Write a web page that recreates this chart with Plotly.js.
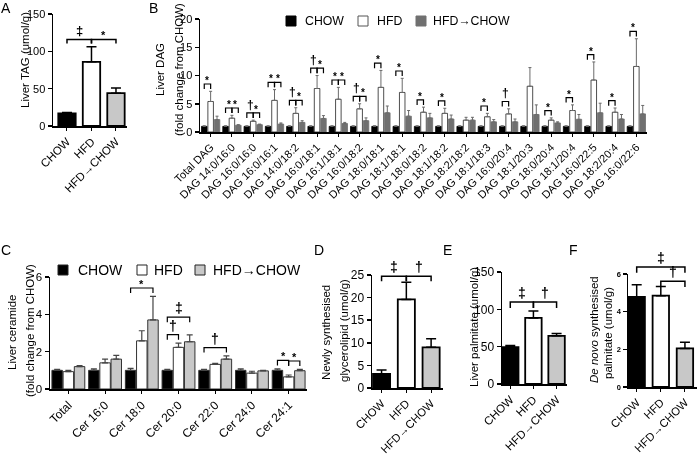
<!DOCTYPE html>
<html><head><meta charset="utf-8">
<script src="https://cdn.plot.ly/plotly-3.0.1.min.js"></script>
<style>html,body{margin:0;padding:0;background:#fff}#chart{width:700px;height:457px;will-change:transform}</style>
</head><body><div id="chart"></div>
<script>
// ================= DATA =================
const groupNames = ['CHOW', 'HFD', 'HFD→CHOW'];

// A: Liver TAG (umol/g)
const tagMean = [17, 86, 44];
const tagSem = [1, 20, 7];
const tagSigFrom = [0, 1];
const tagSigTo = [1, 2];
const tagSigSym = ['‡', '*'];
const tagSigTier = [0, 0];

// B: Liver DAG (fold change from CHOW)
const dagSpecies = ['Total DAG', 'DAG 14:0/16:0', 'DAG 16:0/16:0', 'DAG 16:0/16:1', 'DAG 14:0/18:2',
  'DAG 16:0/18:1', 'DAG 16:1/18:1', 'DAG 16:0/18:2', 'DAG 18:0/18:1', 'DAG 18:1/18:1', 'DAG 18:0/18:2',
  'DAG 18:1/18:2', 'DAG 18:2/18:2', 'DAG 18:1/18:3', 'DAG 16:0/20:4', 'DAG 18:1/20:3', 'DAG 18:0/20:4',
  'DAG 18:1/20:4', 'DAG 16:0/22:5', 'DAG 18:2/20:4', 'DAG 16:0/22:6'];
const dagChow = [1, 1, 1, 1, 1, 1, 1, 1, 1, 1, 1, 1, 1, 1, 1, 1, 1, 1, 1, 1, 1];
const dagChowSem = [0.1, 0.1, 0.1, 0.1, 0.1, 0.1, 0.1, 0.1, 0.1, 0.1, 0.1, 0.1, 0.1, 0.1, 0.1, 0.1, 0.1, 0.1, 0.1, 0.1, 0.1];
const dagHfd = [5.4, 2.45, 1.9, 5.6, 3.3, 7.7, 5.8, 4.1, 7.9, 7.0, 3.5, 3.3, 2.1, 2.7, 3.2, 8.1, 2.1, 3.8, 9.2, 3.5, 11.6];
const dagHfdSem = [1.8, 0.5, 0.2, 1.9, 1.0, 2.3, 2.1, 0.9, 3.0, 2.5, 0.9, 0.9, 0.5, 0.6, 0.9, 3.3, 0.4, 1.0, 3.2, 0.75, 4.9];
const dagSwitch = [2.2, 1.2, 1.3, 1.4, 1.7, 2.4, 1.5, 2.0, 3.4, 2.8, 2.5, 2.3, 2.1, 1.8, 1.8, 3.1, 1.6, 2.25, 3.4, 2.3, 3.2];
const dagSwitchSem = [0.6, 0.1, 0.1, 0.2, 0.3, 0.5, 0.2, 0.5, 1.2, 1.0, 0.8, 0.7, 0.5, 0.4, 0.5, 1.7, 0.2, 0.85, 1.7, 0.8, 1.5];
const dagSigChowHfd = ['*', '*', '†', '*', '†', '†', '*', '†', '*', '*', '*', '*', '', '*', '†', '', '*', '*', '*', '*', '*'];
const dagSigHfdSwitch = ['', '*', '*', '*', '*', '*', '*', '*', '', '', '', '', '', '', '', '', '', '', '', '', ''];

// C: Liver ceramide (fold change from CHOW)
const cerSpecies = ['Total', 'Cer 16:0', 'Cer 18:0', 'Cer 20:0', 'Cer 22:0', 'Cer 24:0', 'Cer 24:1'];
const cerChow = [1, 1, 1, 1, 1, 1, 1];
const cerChowSem = [0.05, 0.08, 0.1, 0.05, 0.05, 0.08, 0.08];
const cerHfd = [0.93, 1.4, 2.58, 2.23, 1.32, 0.85, 0.65];
const cerHfdSem = [0.07, 0.2, 0.54, 0.23, 0.06, 0.1, 0.1];
const cerSwitch = [1.2, 1.6, 3.7, 2.53, 1.6, 0.97, 0.98];
const cerSwitchSem = [0.05, 0.2, 1.26, 0.37, 0.17, 0.03, 0.07];
const cerSigCat = [2, 3, 3, 4, 6, 6];
const cerSigFrom = [0, 0, 0, 0, 0, 1];
const cerSigTo = [2, 1, 2, 2, 1, 2];
const cerSigSym = ['*', '†', '‡', '†', '*', '*'];
const cerSigTier = [0, 0, 1, 0, 0, 0];

// D: Newly synthesised glycerolipid (umol/g)
const glyMean = [3.1, 19.6, 9.0];
const glySem = [0.9, 3.8, 1.9];
const glySigFrom = [0, 1];
const glySigTo = [1, 2];
const glySigSym = ['‡', '†'];
const glySigTier = [0, 0];

// E: Liver palmitate (umol/g)
const palMean = [49.4, 88.5, 64.5];
const palSem = [2.2, 9.4, 3.1];
const palSigFrom = [0, 1];
const palSigTo = [1, 2];
const palSigSym = ['‡', '†'];
const palSigTier = [0, 0];

// F: De novo synthesised palmitate (umol/g)
const dnlMean = [4.78, 4.85, 2.05];
const dnlSem = [0.65, 0.49, 0.32];
const dnlSigFrom = [0, 1];
const dnlSigTo = [2, 2];
const dnlSigSym = ['‡', '†'];
const dnlSigTier = [1, 0];

// ================= STYLE / LAYOUT =================
const FONT = 'Liberation Sans, Arial, Helvetica, sans-serif';
const W = 700, H = 457;
const px = v => v / W;
const py = v => 1 - v / H;
const idx = arr => arr.map((_, i) => i);
const zeros = arr => arr.map(() => 0);
const tops = (m, s) => m.map((v, i) => v + s[i]);

const threeColors = ['#000000', '#ffffff', '#c8c8c8'];
const bColors = ['#000000', '#ffffff', '#707070'];
const traces = [], shapes = [], annotations = [];

function axName(n) { return n === 1 ? '' : String(n); }

function simplePanel(n, mean, sem, st) {
  traces.push({
    type: 'bar', x: idx(mean), y: mean, width: st.bw, xaxis: 'x' + axName(n), yaxis: 'y' + axName(n),
    marker: { color: threeColors, line: { color: '#000', width: st.lw } },
    error_y: { type: 'data', symmetric: false, array: sem, arrayminus: zeros(sem), color: '#000', thickness: st.elw, width: st.ew },
    showlegend: false, hoverinfo: 'skip'
  });
}

// bracket: x in data units of axis n, y converted to the axis' domain fraction (range starts at 0)
function bracket(n, x0, x1, top, sym, tier, st) {
  const y = (top + st.pad + tier * st.step) / st.ymax;
  const yb = y - st.drop / st.ymax;
  const xr = 'x' + axName(n), yr = 'y' + axName(n) + ' domain';
  shapes.push({ type: 'path', xref: xr, yref: yr, path: `M${x0},${yb} L${x0},${y} L${x1},${y} L${x1},${yb}`,
    line: { color: '#000', width: st.blw } });
  annotations.push({ xref: xr, yref: yr, x: (x0 + x1) / 2, y: y, text: sym, showarrow: false,
    xanchor: 'center', yanchor: 'bottom', yshift: sym === '*' ? -4 : -1,
    font: { family: FONT, size: sym === '*' ? st.star : st.dag, color: '#000', weight: 'bold' } });
}

function simpleBrackets(n, mean, sem, from, to, sym, tier, st) {
  const t = tops(mean, sem);
  for (let k = 0; k < sym.length; k++) {
    const span = t.slice(from[k], to[k] + 1);
    bracket(n, from[k], to[k], Math.max(...span), sym[k], tier[k], st);
  }
}

// ---- A ----
const stA = { ymax: 150, bw: 0.71, lw: 1.8, elw: 1.5, ew: 5, pad: 10, step: 12, drop: 5.5, blw: 1.5, star: 11, dag: 13 };
simplePanel(1, tagMean, tagSem, stA);
simpleBrackets(1, tagMean, tagSem, tagSigFrom, tagSigTo, tagSigSym, tagSigTier, stA);

// ---- B ----
const bSp = 0.3, bW = 0.26;
const bSeries = [[dagChow, dagChowSem], [dagHfd, dagHfdSem], [dagSwitch, dagSwitchSem]];
bSeries.forEach((s, g) => {
  traces.push({
    type: 'bar', name: groupNames[g], x: idx(dagSpecies), y: s[0], width: bW, offset: (g - 1) * bSp - bW / 2,
    xaxis: 'x2', yaxis: 'y2',
    marker: { color: bColors[g], line: { color: g === 1 ? '#222' : bColors[g], width: 0.8 } },
    error_y: { type: 'data', symmetric: false, array: s[1], arrayminus: zeros(s[1]), color: '#6a6a6a', thickness: 1, width: 1.5 },
    showlegend: false, hoverinfo: 'skip'
  });
});
const stB = { ymax: 20, pad: 1.3, step: 1, drop: 0.9, blw: 1.2, star: 10, dag: 12 };
const dagHfdTop = tops(dagHfd, dagHfdSem), dagSwTop = tops(dagSwitch, dagSwitchSem), dagChTop = tops(dagChow, dagChowSem);
dagSpecies.forEach((c, i) => {
  if (dagSigChowHfd[i]) bracket(2, i - bSp, i, Math.max(dagChTop[i], dagHfdTop[i]), dagSigChowHfd[i], 0, stB);
  if (dagSigHfdSwitch[i]) bracket(2, i, i + bSp, Math.max(dagHfdTop[i], dagSwTop[i]), dagSigHfdSwitch[i], 0, stB);
});

// ---- C ----
const cSp = 0.305, cW = 0.285;
const cSeries = [[cerChow, cerChowSem], [cerHfd, cerHfdSem], [cerSwitch, cerSwitchSem]];
cSeries.forEach((s, g) => {
  traces.push({
    type: 'bar', name: groupNames[g], x: idx(cerSpecies), y: s[0], width: cW, offset: (g - 1) * cSp - cW / 2,
    xaxis: 'x3', yaxis: 'y3',
    marker: { color: threeColors[g], line: { color: '#333', width: 1 } },
    error_y: { type: 'data', symmetric: false, array: s[1], arrayminus: zeros(s[1]), color: '#444', thickness: 1.2, width: 3 },
    showlegend: false, hoverinfo: 'skip'
  });
});
const stC = { ymax: 6, pad: 0.45, step: 0.5, drop: 0.27, blw: 1.2, star: 11, dag: 14 };
const cTops = cSeries.map(s => tops(s[0], s[1]));
for (let k = 0; k < cerSigSym.length; k++) {
  const c = cerSigCat[k];
  let m = 0;
  for (let g = cerSigFrom[k]; g <= cerSigTo[k]; g++) m = Math.max(m, cTops[g][c]);
  bracket(3, c + (cerSigFrom[k] - 1) * cSp, c + (cerSigTo[k] - 1) * cSp, m, cerSigSym[k], cerSigTier[k], stC);
}

// ---- D ----
const stD = { ymax: 25, bw: 0.69, lw: 1.8, elw: 1.5, ew: 5, pad: 1.3, step: 1.5, drop: 1.1, blw: 1.5, star: 11, dag: 14 };
simplePanel(4, glyMean, glySem, stD);
simpleBrackets(4, glyMean, glySem, glySigFrom, glySigTo, glySigSym, glySigTier, stD);

// ---- E ----
const stE = { ymax: 150, bw: 0.71, lw: 1.8, elw: 1.5, ew: 5, pad: 12, step: 10, drop: 8, blw: 1.5, star: 11, dag: 14 };
simplePanel(5, palMean, palSem, stE);
simpleBrackets(5, palMean, palSem, palSigFrom, palSigTo, palSigSym, palSigTier, stE);

// ---- F ----
const stF = { ymax: 6, bw: 0.68, lw: 1.8, elw: 1.5, ew: 5, pad: 0.27, step: 0.67, drop: 0.3, blw: 1.5, star: 11, dag: 14 };
simplePanel(6, dnlMean, dnlSem, stF);
simpleBrackets(6, dnlMean, dnlSem, dnlSigFrom, dnlSigTo, dnlSigSym, dnlSigTier, stF);

// ---- legends (drawn as keys in paper space) ----
function legendKey(x, yc, size, fill, stroke, text, tx, fs) {
  shapes.push({ type: 'rect', xref: 'paper', yref: 'paper', x0: px(x), x1: px(x + size), y0: py(yc + size / 2), y1: py(yc - size / 2),
    fillcolor: fill, line: { color: stroke, width: 1 } });
  annotations.push({ xref: 'paper', yref: 'paper', x: px(tx), y: py(yc), text: text, showarrow: false,
    xanchor: 'left', yanchor: 'middle', borderpad: 0, font: { family: FONT, size: fs, color: '#000' } });
}
const bKeyX = [286, 358, 416], bTextX = [304, 376, 432];
groupNames.forEach((g, i) => legendKey(bKeyX[i], 21, 10, bColors[i], i === 1 ? '#555' : bColors[i], g, bTextX[i], 12.3));
const cKeyX = [58, 137, 195], cTextX = [77, 153, 212];
groupNames.forEach((g, i) => legendKey(cKeyX[i], 270, 10, threeColors[i], '#222', g, cTextX[i], 14));

// ---- axes ----
function xAxis(x0, x1, range, labels, fs, anchor) {
  return { domain: [px(x0), px(x1)], range: range, anchor: anchor, type: 'linear',
    tickmode: 'array', tickvals: idx(labels), ticktext: labels, tickangle: -45,
    tickfont: { family: FONT, size: fs, color: '#000' },
    showline: true, linecolor: '#000', linewidth: 1.5, ticks: 'outside', ticklen: 3, tickwidth: 1, tickcolor: '#000',
    showgrid: false, zeroline: false, fixedrange: true };
}
function yAxis(top, bottom, range, dtick, fs, anchor, extra) {
  return Object.assign({ domain: [py(bottom), py(top)], range: range, anchor: anchor, type: 'linear',
    tickmode: 'linear', tick0: 0, dtick: dtick,
    tickfont: { family: FONT, size: fs, color: '#000' },
    showline: true, linecolor: '#000', linewidth: 1.5, ticks: 'outside', ticklen: 4, tickwidth: 1.5, tickcolor: '#000',
    showgrid: false, zeroline: false, fixedrange: true }, extra || {});
}

function ytitle(x, y, text, size) {
  annotations.push({ xref: 'paper', yref: 'paper', x: px(x), y: py(y), text: text, textangle: -90, showarrow: false,
    xanchor: 'center', yanchor: 'middle', font: { family: FONT, size: size || 11.5, color: '#000' } });
}
function letter(x, y, t) {
  annotations.push({ xref: 'paper', yref: 'paper', x: px(x), y: py(y), text: t, showarrow: false,
    xanchor: 'center', yanchor: 'middle', font: { family: FONT, size: 14, color: '#000' } });
}
ytitle(25, 60, 'Liver TAG (umol/g)');
ytitle(160, 70, 'Liver DAG');
ytitle(179, 70, '(fold change from CHOW)');
ytitle(12, 333, 'Liver ceramide');
ytitle(30, 331, '(fold change from CHOW)');
ytitle(326, 333, 'Newly synthesised');
ytitle(344, 331, 'glycerolipid (umol/g)');
ytitle(474, 327, 'Liver palmitate (umol/g)');
ytitle(594, 330, '<i>De novo</i> synthesised');
ytitle(608, 333, 'palmitate (umol/g)');
letter(6, 8, 'A'); letter(153, 8, 'B'); letter(6, 250, 'C');
letter(319, 250, 'D'); letter(447, 250, 'E'); letter(573, 250, 'F');

const layout = {
  width: W, height: H, autosize: false, margin: { l: 0, r: 0, t: 0, b: 0 },
  paper_bgcolor: '#fff', plot_bgcolor: 'rgba(0,0,0,0)', barmode: 'overlay', showlegend: false,
  font: { family: FONT, color: '#000', size: 11 },
  xaxis: xAxis(53, 127, [-0.571, 2.45], groupNames, 11.5, 'y'),
  yaxis: yAxis(14, 126, [0, 150], 50, 11, 'x'),
  xaxis2: xAxis(200, 647, [-0.5, 20.5], dagSpecies, 11, 'y2'),
  yaxis2: yAxis(19, 132, [0, 20], 5, 11, 'x2'),
  xaxis3: xAxis(50, 307, [-0.5, 6.5], cerSpecies, 12, 'y3'),
  yaxis3: yAxis(277, 389, [0, 6], 2, 11.5, 'x3'),
  xaxis4: xAxis(372, 443, [-0.386, 2.48], groupNames, 11.3, 'y4'),
  yaxis4: yAxis(275, 388, [0, 25], 5, 12, 'x4'),
  xaxis5: xAxis(502, 567, [-0.357, 2.45], groupNames, 11.5, 'y5'),
  yaxis5: yAxis(272, 384, [0, 150], 50, 12, 'x5'),
  xaxis6: xAxis(628, 697, [-0.36, 2.5], groupNames, 11.3, 'y6'),
  yaxis6: yAxis(274, 387, [0, 6], 2, 7.5, 'x6', { tickfont: { family: FONT, size: 7.5, color: '#000', weight: 'bold' } }),
  shapes: shapes, annotations: annotations
};

Plotly.newPlot('chart', traces, layout, { staticPlot: true, displayModeBar: false });
</script>
</body></html>
